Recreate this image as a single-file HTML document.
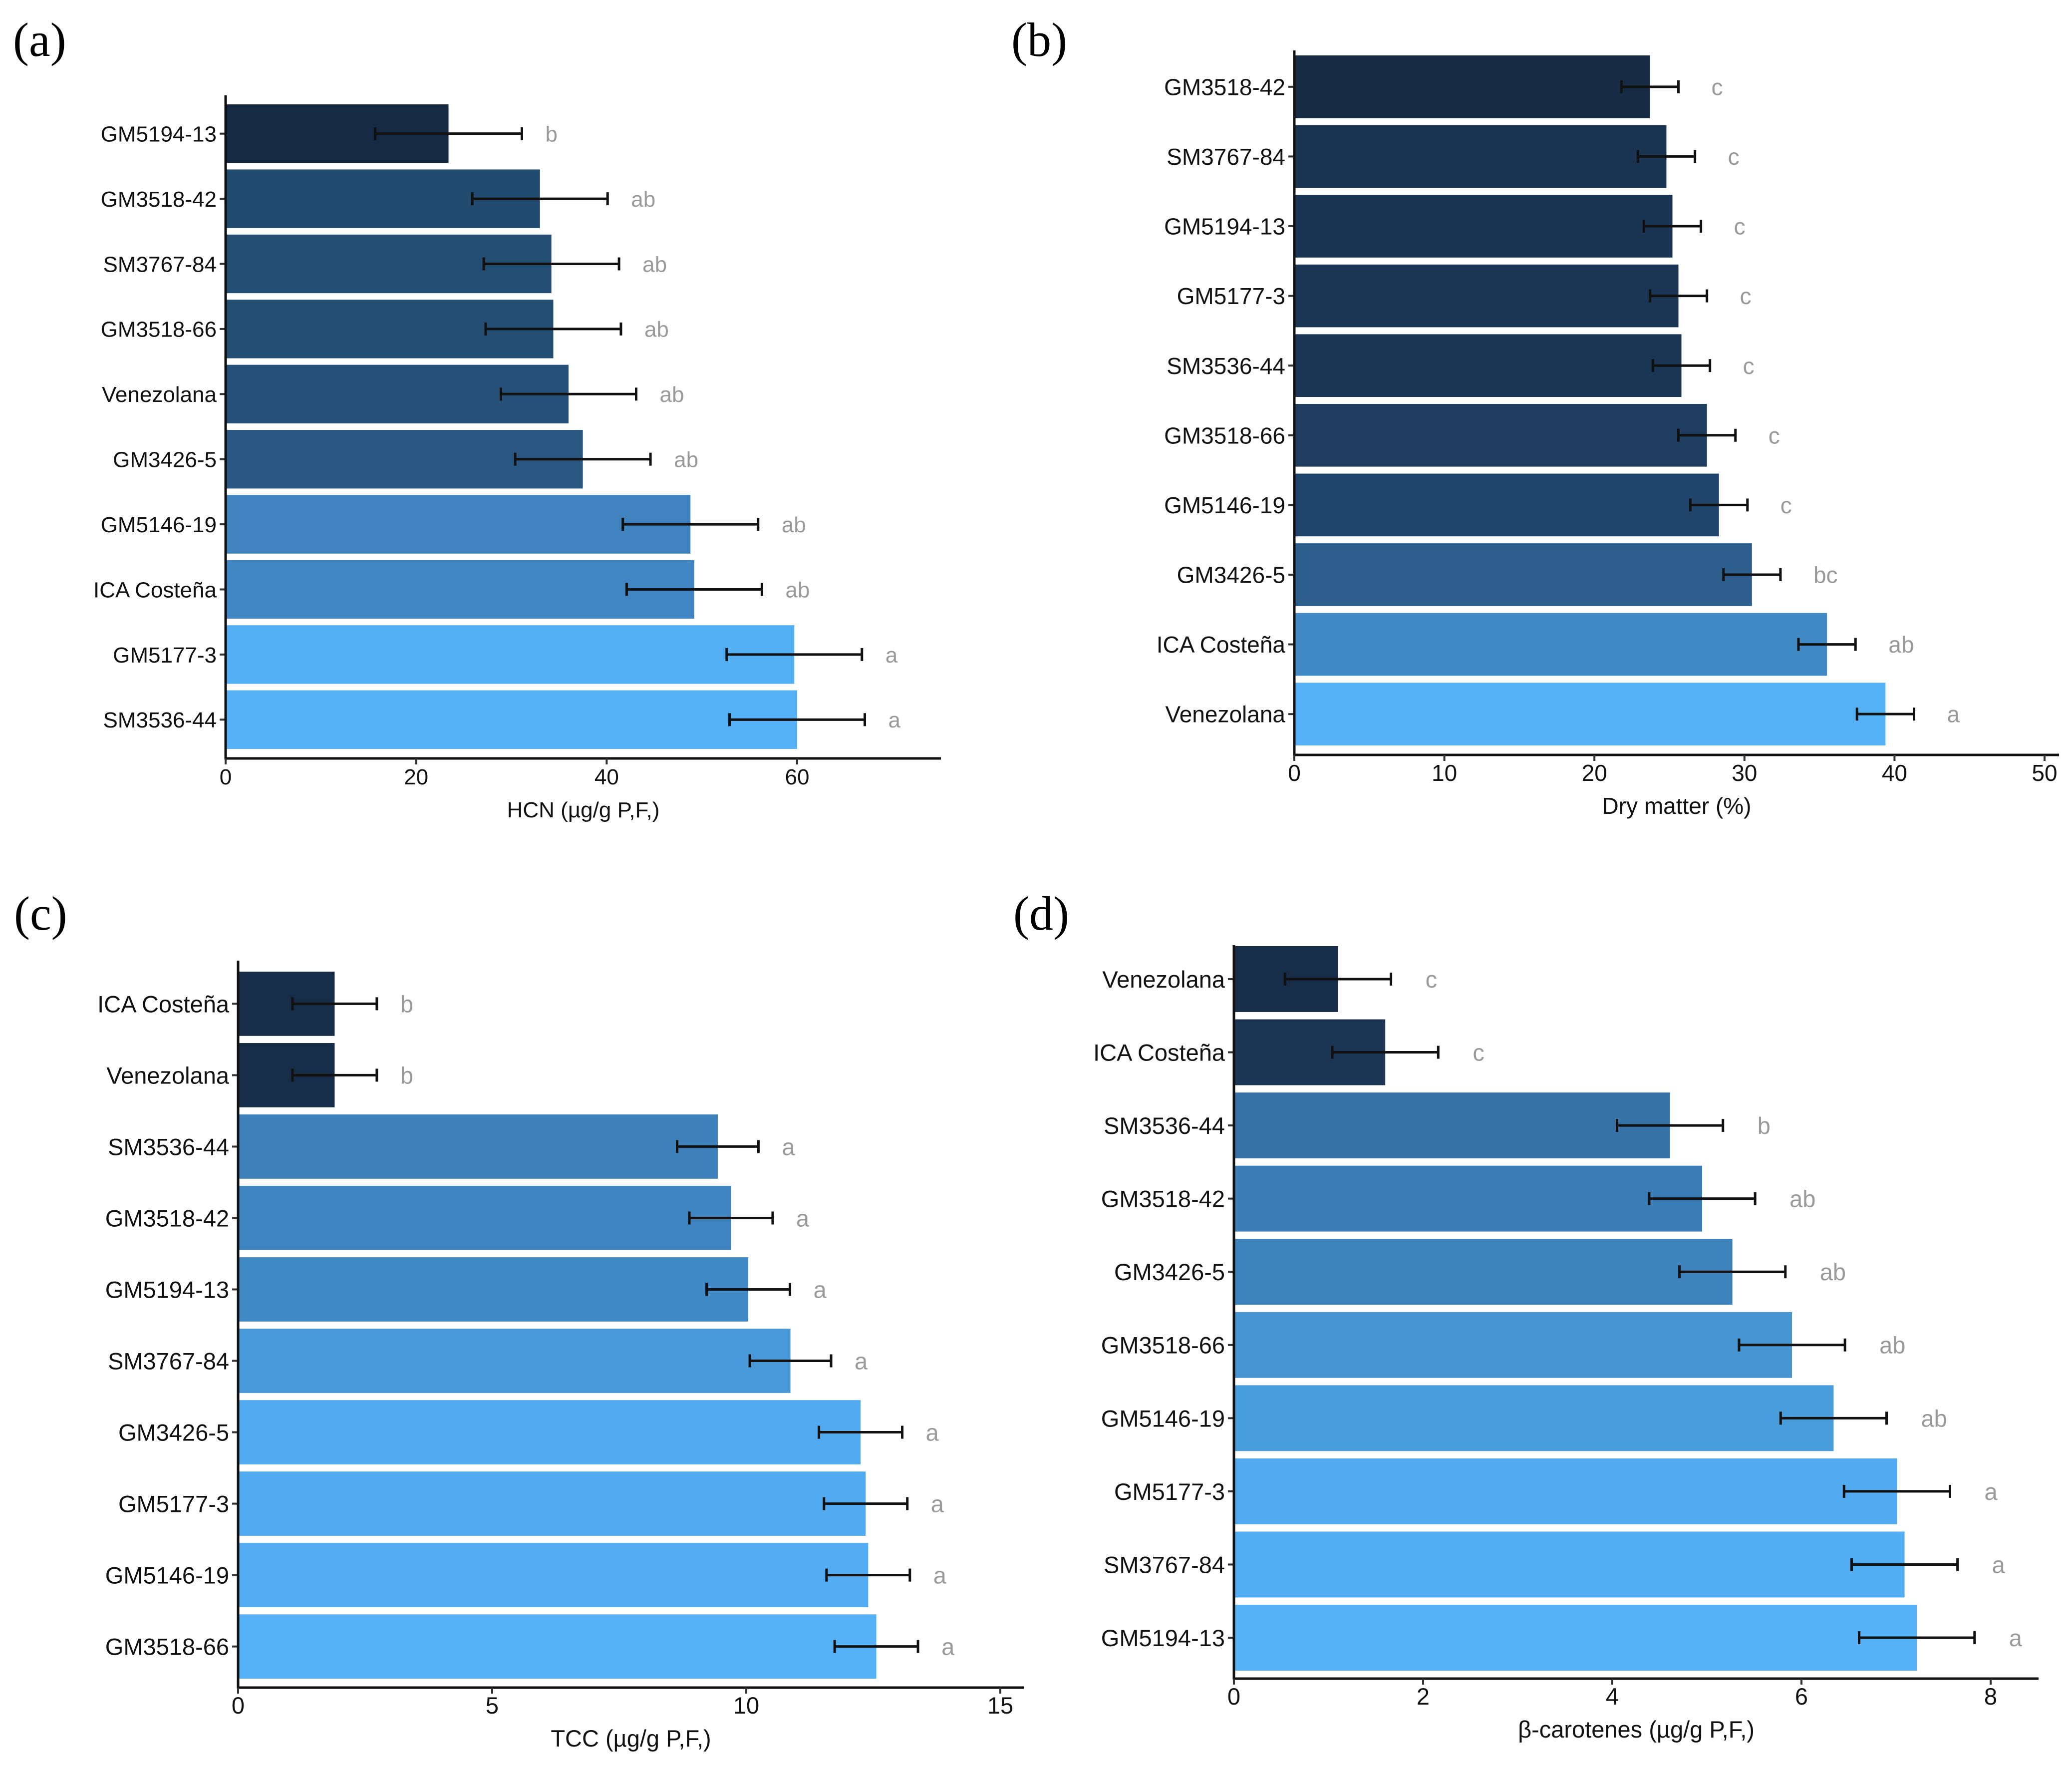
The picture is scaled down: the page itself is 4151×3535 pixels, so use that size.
<!DOCTYPE html>
<html><head><meta charset="utf-8"><style>
html,body{margin:0;padding:0;background:#fff}
svg{display:block}
text{font-family:"Liberation Sans",Arial,sans-serif}
.pl{font-family:"Liberation Serif","Times New Roman",serif;font-size:96px;fill:#000}
</style></head><body>
<svg id="fig" width="4151" height="3535" viewBox="0 0 4151 3535" xmlns="http://www.w3.org/2000/svg">
<rect width="4151" height="3535" fill="#fff"/>
<text class="pl" x="26" y="112">(a)</text>
<text class="pl" x="2026" y="112">(b)</text>
<text class="pl" x="28" y="1862">(c)</text>
<text class="pl" x="2030" y="1862">(d)</text>
</svg>
<script>
// Panel (a) HCN
const catsA = ["GM5194-13","GM3518-42","SM3767-84","GM3518-66","Venezolana","GM3426-5","GM5146-19","ICA Costeña","GM5177-3","SM3536-44"];
const valsA = [23.4,33.0,34.2,34.4,36.0,37.5,48.8,49.2,59.7,60.0];
const errA = [7.7,7.1,7.1,7.1,7.1,7.1,7.1,7.1,7.1,7.1];
const letA = ["b","ab","ab","ab","ab","ab","ab","ab","a","a"];
const ticksA = [0,20,40,60];
// Panel (b) Dry matter
const catsB = ["GM3518-42","SM3767-84","GM5194-13","GM5177-3","SM3536-44","GM3518-66","GM5146-19","GM3426-5","ICA Costeña","Venezolana"];
const valsB = [23.7,24.8,25.2,25.6,25.8,27.5,28.3,30.5,35.5,39.4];
const errB = [1.9,1.9,1.9,1.9,1.9,1.9,1.9,1.9,1.9,1.9];
const letB = ["c","c","c","c","c","c","c","bc","ab","a"];
const ticksB = [0,10,20,30,40,50];
// Panel (c) TCC
const catsC = ["ICA Costeña","Venezolana","SM3536-44","GM3518-42","GM5194-13","SM3767-84","GM3426-5","GM5177-3","GM5146-19","GM3518-66"];
const valsC = [1.9,1.9,9.44,9.7,10.04,10.87,12.25,12.35,12.4,12.56];
const errC = [0.83,0.83,0.8,0.82,0.82,0.8,0.82,0.82,0.82,0.82];
const letC = ["b","b","a","a","a","a","a","a","a","a"];
const ticksC = [0,5,10,15];
// Panel (d) beta-carotenes
const catsD = ["Venezolana","ICA Costeña","SM3536-44","GM3518-42","GM3426-5","GM3518-66","GM5146-19","GM5177-3","SM3767-84","GM5194-13"];
const valsD = [1.1,1.6,4.61,4.95,5.27,5.9,6.34,7.01,7.09,7.22];
const errD = [0.56,0.56,0.56,0.56,0.56,0.56,0.56,0.56,0.56,0.61];
const letD = ["c","c","b","ab","ab","ab","ab","a","a","a"];
const ticksD = [0,2,4,6,8];

const colA = ["#162a43","#234b6f","#244d72","#244d72","#275079","#2b5882","#4083bf","#4186c2","#54aff4","#56b1f7"];
const colB = ["#172b45","#1a3451","#1a3553","#1b3654","#1b3654","#1f3e5f","#21456a","#2e5e8b","#428ac6","#56b1f7"];
const colC = ["#172c47","#172c47","#3d80ba","#3f84bf","#418ac6","#4a9ad9","#52abf0","#53acf1","#54adf2","#56b1f7"];
const colD = ["#172c47","#1c3552","#3772a6","#3c7db5","#3f83bd","#4694d0","#4a9ddb","#52abf0","#54aef4","#56b1f7"];

const NS="http://www.w3.org/2000/svg";
const svg=document.getElementById('fig');
function mk(tag,attrs,parent){const e=document.createElementNS(NS,tag);for(const k in attrs)e.setAttribute(k,attrs[k]);(parent||svg).appendChild(e);return e;}

function panel(p){
  const g=mk('g',{});
  
  
  const sx=v=>p.x0+(v-p.vmin)*(p.x1-p.x0)/(p.vmax-p.vmin);
  const n=p.cats.length;
  const pitch=(p.barBot-p.barTop)/(n-0.1);
  const bh=pitch*0.9;
  for(let i=0;i<n;i++){
    const y=p.barTop+i*pitch;
    const cy=y+bh/2;
    const r=mk('rect',{x:sx(0),y:y,width:sx(p.vals[i])-sx(0),height:bh,fill:p.cols[i]},g);
    
    
    const l=sx(p.vals[i]-p.errs[i]), rr=sx(p.vals[i]+p.errs[i]);
    const eg=mk('g',{stroke:'#111','stroke-width':5},g);
    
    
    mk('line',{x1:l,x2:rr,y1:cy,y2:cy},eg);
    mk('line',{x1:l,x2:l,y1:cy-13,y2:cy+13},eg);
    mk('line',{x1:rr,x2:rr,y1:cy-13,y2:cy+13},eg);
    const lt=mk('text',{x:rr+p.lgap,y:cy+p.fs*0.36,'font-size':p.fs,fill:'#9a9a9a'},g);
    lt.textContent=p.lets[i];
    
    
    mk('line',{x1:p.x0-12,x2:p.x0,y1:cy,y2:cy,stroke:'#333','stroke-width':4},g);
    const cl=mk('text',{x:p.x0-18,y:cy+p.fs*0.36,'font-size':p.fs,'text-anchor':'end',fill:'#111'},g);
    cl.textContent=p.cats[i];
    
    
  }
  const ya=mk('line',{x1:p.x0,x2:p.x0,y1:p.axTop,y2:p.axY+2,stroke:'#111','stroke-width':5},g);
  
  
  const xa=mk('line',{x1:p.x0-2,x2:p.axRight,y1:p.axY,y2:p.axY,stroke:'#111','stroke-width':5},g);
  
  
  p.ticks.forEach(t=>{
    mk('line',{x1:sx(t),x2:sx(t),y1:p.axY,y2:p.axY+12,stroke:'#333','stroke-width':4},g);
    const tt=mk('text',{x:sx(t),y:p.axY+52,'font-size':p.fs,'text-anchor':'middle',fill:'#111'},g);
    tt.textContent=t;
    
    
  });
  const xt=mk('text',{x:(p.x0+p.axRight)/2,y:p.axY+118,'font-size':p.fs,'text-anchor':'middle',fill:'#111'},g);
  xt.textContent=p.title;
  
  
}

panel({id:'hcn',cats:catsA,vals:valsA,errs:errA,lets:letA,ticks:ticksA,cols:colA,vmin:0,vmax:60,x0:452,x1:1597,axRight:1885,axTop:191,axY:1519,barTop:209,barBot:1500,fs:44,lgap:47,title:"HCN (µg/g P,F,)"});
panel({id:'dry-matter',cats:catsB,vals:valsB,errs:errB,lets:letB,ticks:ticksB,cols:colB,vmin:0,vmax:50,x0:2593,x1:4096,axRight:4125,axTop:101,axY:1512,barTop:111,barBot:1493,fs:46,lgap:66,title:"Dry matter (%)"});
panel({id:'tcc',cats:catsC,vals:valsC,errs:errC,lets:letC,ticks:ticksC,cols:colC,vmin:0,vmax:15,x0:477,x1:2004,axRight:2051,axTop:1924,axY:3380,barTop:1946,barBot:3362,fs:47,lgap:47,title:"TCC (µg/g P,F,)"});
panel({id:'beta-carotenes',cats:catsD,vals:valsD,errs:errD,lets:letD,ticks:ticksD,cols:colD,vmin:0,vmax:8,x0:2472,x1:3988,axRight:4084,axTop:1893,axY:3362,barTop:1895,barBot:3346,fs:47,lgap:69,title:"β-carotenes (µg/g P,F,)"});
</script>
</body></html>
